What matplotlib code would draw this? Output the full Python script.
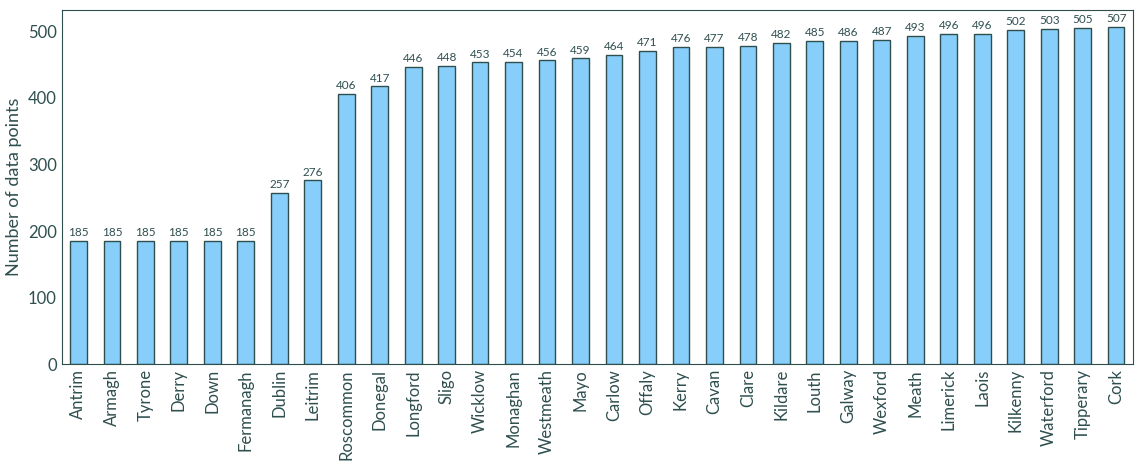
import matplotlib
matplotlib.use("Agg")
import matplotlib.pyplot as plt

counties = ["Antrim", "Armagh", "Tyrone", "Derry", "Down", "Fermanagh", "Dublin",
            "Leitrim", "Roscommon", "Donegal", "Longford", "Sligo", "Wicklow",
            "Monaghan", "Westmeath", "Mayo", "Carlow", "Offaly", "Kerry", "Cavan",
            "Clare", "Kildare", "Louth", "Galway", "Wexford", "Meath", "Limerick",
            "Laois", "Kilkenny", "Waterford", "Tipperary", "Cork"]
counts = [185, 185, 185, 185, 185, 185, 257, 276, 406, 417, 446, 448, 453, 454,
          456, 459, 464, 471, 476, 477, 478, 482, 485, 486, 487, 493, 496, 496,
          502, 503, 505, 507]

dark = "#2F4F4F"
plt.rcParams["font.family"] = ["Lato", "DejaVu Sans"]

fig, ax = plt.subplots(figsize=(11.42, 4.70), dpi=100)
fig.subplots_adjust(left=0.054, right=0.992, top=0.979, bottom=0.225)

x = range(len(counties))
bars = ax.bar(x, counts, width=0.5, color="#87CEFA", edgecolor=dark, linewidth=1)
ax.bar_label(bars, fontsize=8.5, color=dark, padding=2)

ax.set_xlim(-0.5, len(counties) - 0.5)
ax.set_ylim(0, 532)
ax.set_xticks(list(x))
ax.set_xticklabels(counties, rotation=90, fontsize=12, color=dark)
ax.tick_params(axis="y", labelsize=12, labelcolor=dark)
ax.tick_params(length=0)
ax.set_ylabel("Number of data points", fontsize=13, color=dark)
for s in ax.spines.values():
    s.set_color(dark)

fig.savefig("out.png", dpi=100)
